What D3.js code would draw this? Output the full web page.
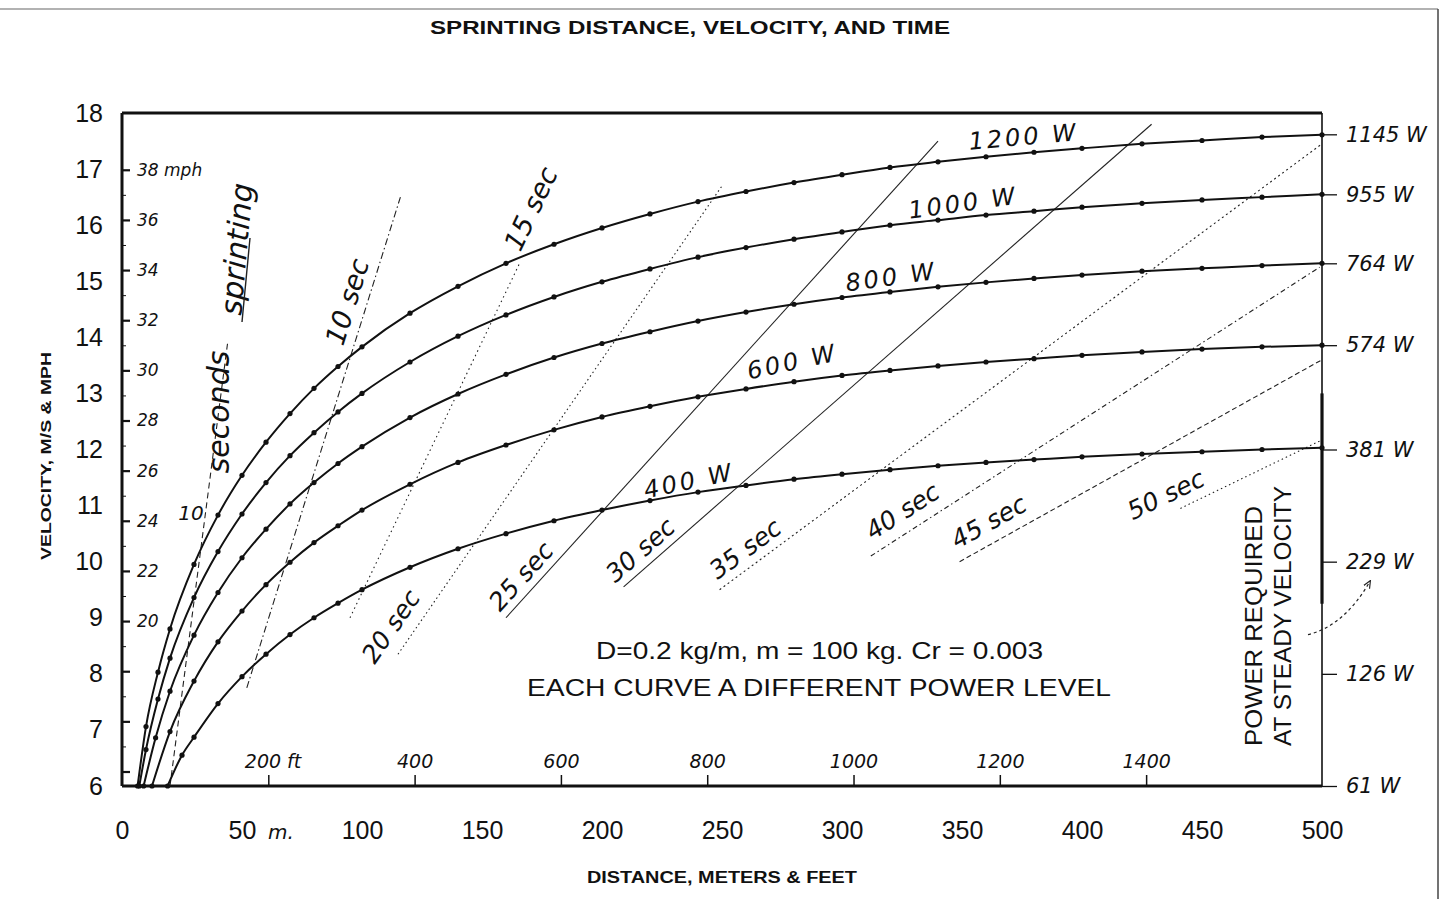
<!DOCTYPE html>
<html>
<head>
<meta charset="utf-8">
<script src="https://cdn.jsdelivr.net/npm/d3@7"></script>
<style>
  body { margin: 0; background: #fff; }
  svg text { fill: #111; }
  .print { font-family: "Liberation Sans", Arial, sans-serif; }
  .hand { font-family: "DejaVu Sans", sans-serif; font-style: italic; font-weight: 200; }
</style>
</head>
<body>
<svg id="chart" width="1449" height="899"></svg>
<script>
// ---- data ----
var powerLabels = ["400 W", "600 W", "800 W", "1000 W", "1200 W"];

var dist400 = [19, 25, 30, 40, 50, 60, 70, 80, 90, 100, 120, 140, 160, 180, 200, 220, 240, 260, 280, 300, 320, 340, 360, 380, 400, 425, 450, 475, 500];
var vel400  = [6.0, 6.55, 6.87, 7.47, 7.95, 8.35, 8.70, 9.00, 9.26, 9.50, 9.90, 10.23, 10.50, 10.73, 10.92, 11.09, 11.24, 11.36, 11.47, 11.56, 11.64, 11.71, 11.77, 11.82, 11.87, 11.92, 11.96, 12.00, 12.03];

var dist600 = [12.5, 20, 30, 40, 50, 60, 70, 80, 90, 100, 120, 140, 160, 180, 200, 220, 240, 260, 280, 300, 320, 340, 360, 380, 400, 425, 450, 475, 500];
var vel600  = [6.0, 6.97, 7.87, 8.57, 9.12, 9.59, 9.99, 10.34, 10.64, 10.92, 11.38, 11.77, 12.08, 12.35, 12.58, 12.77, 12.94, 13.08, 13.21, 13.32, 13.41, 13.49, 13.56, 13.62, 13.68, 13.74, 13.79, 13.83, 13.86];

var dist800 = [9, 14, 20, 30, 40, 50, 60, 70, 80, 90, 100, 120, 140, 160, 180, 200, 220, 240, 260, 280, 300, 320, 340, 360, 380, 400, 425, 450, 475, 500];
var vel800  = [6.0, 6.86, 7.69, 8.69, 9.45, 10.07, 10.58, 11.03, 11.41, 11.75, 12.05, 12.57, 12.99, 13.34, 13.64, 13.89, 14.10, 14.29, 14.45, 14.59, 14.71, 14.81, 14.90, 14.98, 15.05, 15.11, 15.18, 15.23, 15.28, 15.32];

var dist1000 = [7.2, 10, 15, 20, 30, 40, 50, 60, 70, 80, 90, 100, 120, 140, 160, 180, 200, 220, 240, 260, 280, 300, 320, 340, 360, 380, 400, 425, 450, 475, 500];
var vel1000  = [6.0, 6.65, 7.55, 8.28, 9.36, 10.18, 10.85, 11.41, 11.89, 12.30, 12.67, 13.00, 13.56, 14.02, 14.40, 14.72, 14.99, 15.22, 15.43, 15.60, 15.75, 15.88, 16.00, 16.09, 16.18, 16.25, 16.32, 16.39, 16.45, 16.50, 16.55];

var dist1200 = [6.5, 10, 15, 20, 30, 40, 50, 60, 70, 80, 90, 100, 120, 140, 160, 180, 200, 220, 240, 260, 280, 300, 320, 340, 360, 380, 400, 425, 450, 475, 500];
var vel1200  = [6.0, 7.06, 8.03, 8.80, 9.95, 10.83, 11.54, 12.13, 12.64, 13.09, 13.48, 13.83, 14.43, 14.91, 15.32, 15.66, 15.95, 16.20, 16.42, 16.60, 16.76, 16.90, 17.03, 17.13, 17.22, 17.30, 17.37, 17.45, 17.51, 17.57, 17.61];

// lines of equal elapsed time (start and end, distance m / velocity m/s)
var timeLabels = ["10 sec", "15 sec", "20 sec", "25 sec", "30 sec", "35 sec", "40 sec", "45 sec", "50 sec"];
var timeStartD = [52, 95, 115, 160, 209, 249, 312, 349, 441];
var timeStartV = [7.75, 9.0, 8.35, 9.0, 9.55, 9.5, 10.1, 10.0, 10.95];
var timeEndD   = [116, 166, 250, 340, 429, 500, 499, 500, 499];
var timeEndV   = [16.5, 15.35, 16.7, 17.5, 17.8, 17.45, 15.25, 13.6, 12.15];

// short dashed line near the start of the curves
var earlyLineD = [20, 44];
var earlyLineV = [6.0, 13.9];

// power needed to hold the final velocity, right-hand scale
var steadyVel    = [17.62, 16.55, 15.32, 13.86, 12, 10, 8, 6];
var steadyLabels = ["1145 W", "955 W", "764 W", "574 W", "381 W", "229 W", "126 W", "61 W"];

var xTicks   = [0, 50, 100, 150, 200, 250, 300, 350, 400, 450, 500];
var yTicks   = [6, 7, 8, 9, 10, 11, 12, 13, 14, 15, 16, 17, 18];
var mphTicks = d3.range(14, 39);
var feetTicks = [200, 400, 600, 800, 1000, 1200, 1400];

// ---- scales ----
var svg = d3.select('#chart');
var x = d3.scaleLinear().domain([0, 500]).range([122, 1322]);
var y = d3.scaleLinear().domain([6, 18]).range([786, 113]);
var xFeet = d3.scaleLinear().domain([0, 500 / 0.3048]).range(x.range());
var yMph = d3.scaleLinear().domain([6 / 0.44704, 18 / 0.44704]).range(y.range());

// outer border
svg.append('line').attr('x1', 0).attr('x2', 1438).attr('y1', 9).attr('y2', 9)
    .attr('stroke', '#666').attr('stroke-width', 1.2);
svg.append('line').attr('x1', 1438).attr('x2', 1438).attr('y1', 9).attr('y2', 899)
    .attr('stroke', '#444').attr('stroke-width', 1.5);

// title and axis titles
svg.append('text').attr('class', 'print')
    .attr('x', 430).attr('y', 34)
    .attr('font-size', 19).attr('font-weight', 'bold')
    .attr('textLength', 520).attr('lengthAdjust', 'spacingAndGlyphs')
    .text('SPRINTING DISTANCE, VELOCITY, AND TIME');

svg.append('text').attr('class', 'print')
    .attr('x', 587).attr('y', 883)
    .attr('font-size', 16).attr('font-weight', 'bold')
    .attr('textLength', 270).attr('lengthAdjust', 'spacingAndGlyphs')
    .text('DISTANCE, METERS & FEET');

svg.append('text').attr('class', 'print')
    .attr('transform', 'translate(51,560) rotate(-90)')
    .attr('font-size', 14).attr('font-weight', 'bold')
    .attr('textLength', 208).attr('lengthAdjust', 'spacingAndGlyphs')
    .text('VELOCITY, M/S & MPH');

// ---- axes ----
var gx = svg.append('g')
    .attr('transform', 'translate(0,' + y(6) + ')')
    .call(d3.axisBottom(x).tickValues(xTicks).tickSize(0).tickPadding(35));
gx.select('.domain').remove();
gx.selectAll('text').attr('font-size', 25).attr('font-family', '"Liberation Sans", Arial, sans-serif').attr('fill', '#111');
svg.append('text').attr('class', 'hand')
    .attr('x', x(50) + 26).attr('y', y(6) + 53).attr('font-size', 20).text('m.');

var gy = svg.append('g')
    .attr('transform', 'translate(' + x(0) + ',0)')
    .call(d3.axisLeft(y).tickValues(yTicks).tickSize(0).tickPadding(19));
gy.select('.domain').remove();
gy.selectAll('text').attr('font-size', 25).attr('font-family', '"Liberation Sans", Arial, sans-serif').attr('fill', '#111');

// mph scale inside left edge
var gm = svg.append('g')
    .attr('transform', 'translate(' + x(0) + ',0)')
    .call(d3.axisRight(yMph).tickValues(mphTicks).tickSize(8).tickPadding(7)
        .tickFormat(function (d) {
            if (d < 20 || d % 2) return '';
            return d === 38 ? '38 mph' : d;
        }));
gm.select('.domain').remove();
gm.selectAll('.tick line')
    .attr('x2', function (d) { return d % 2 ? 4 : 8; })
    .attr('stroke', '#111').attr('stroke-width', function (d) { return d % 2 ? 1 : 2.2; });
gm.selectAll('text').attr('class', 'hand').attr('font-size', 17).attr('fill', '#222');

// feet scale inside bottom edge
var gf = svg.append('g')
    .attr('transform', 'translate(0,' + y(6) + ')')
    .call(d3.axisTop(xFeet).tickValues(feetTicks).tickSize(11).tickPadding(7)
        .tickFormat(function (d) { return d === 200 ? '200 ft' : d; }));
gf.select('.domain').remove();
gf.selectAll('.tick line').attr('stroke', '#111').attr('stroke-width', 1.5);
gf.selectAll('text').attr('class', 'hand').attr('font-size', 19).attr('fill', '#222');
gf.selectAll('text').filter(function (d) { return d === 200; })
    .attr('text-anchor', 'start').attr('dx', -24);

// steady power scale on the right
var gp = svg.append('g')
    .attr('transform', 'translate(' + x(500) + ',0)')
    .call(d3.axisRight(y).tickValues(steadyVel).tickSize(15).tickPadding(9)
        .tickFormat(function (d, i) { return steadyLabels[i]; }));
gp.select('.domain').remove();
gp.selectAll('.tick line').attr('stroke', '#111').attr('stroke-width', 1.3);
gp.selectAll('text').attr('class', 'hand').attr('font-size', 21).attr('fill', '#222');

// frame
var frame = svg.append('g').attr('stroke', '#111').attr('fill', 'none');
frame.append('line').attr('x1', x(0)).attr('x2', x(500)).attr('y1', y(18)).attr('y2', y(18)).attr('stroke-width', 3);
frame.append('line').attr('x1', x(0)).attr('x2', x(500)).attr('y1', y(6)).attr('y2', y(6)).attr('stroke-width', 3.2);
frame.append('line').attr('x1', x(0)).attr('x2', x(0)).attr('y1', y(18)).attr('y2', y(6)).attr('stroke-width', 3);
frame.append('line').attr('x1', x(500)).attr('x2', x(500)).attr('y1', y(18)).attr('y2', y(6)).attr('stroke-width', 1.6);
frame.append('line').attr('x1', x(500)).attr('x2', x(500)).attr('y1', y(13)).attr('y2', y(9.25)).attr('stroke-width', 3.2);

// ---- lines of equal time ----
var dashes = ['7,3,1.5,3', '1.5,3.5', '1.5,3', null, null, '2,3', '5,3,1.5,3', '5,3', '1.5,3'];
// where each label sits: distance along the line from its start (px) and lift off it (px)
var labelAlong = [null, null, -22, 0, -4, 4, 10, 4, -48];
var labelLiftPx = [10, 4, 13, 8, 8, 9, 12, 12, 10];
var tg = svg.append('g');
timeLabels.forEach(function (lab, i) {
    var x1 = x(timeStartD[i]), y1 = y(timeStartV[i]);
    var x2 = x(timeEndD[i]), y2 = y(timeEndV[i]);
    tg.append('line')
        .attr('x1', x1).attr('y1', y1).attr('x2', x2).attr('y2', y2)
        .attr('stroke', '#222').attr('stroke-width', 1.1)
        .attr('stroke-dasharray', dashes[i]);

    var ang = Math.atan2(y2 - y1, x2 - x1);
    var deg = ang * 180 / Math.PI;
    var ux = Math.cos(ang), uy = Math.sin(ang);
    var px = uy, py = -ux;                       // normal pointing up-left
    var len = Math.hypot(x2 - x1, y2 - y1);
    var along;
    if (i === 0) along = len - 160;              // beside the top part
    else if (i === 1) along = len + 8;           // beyond the top end
    else along = labelAlong[i];                  // on the lower start
    var tx = x1 + ux * along + px * labelLiftPx[i];
    var ty = y1 + uy * along + py * labelLiftPx[i];
    tg.append('text').attr('class', 'hand')
        .attr('transform', 'translate(' + tx + ',' + ty + ') rotate(' + deg + ')')
        .attr('font-size', i < 2 ? 27 : 25)
        .text(lab);
});

tg.append('line')
    .attr('x1', x(earlyLineD[0])).attr('y1', y(earlyLineV[0]))
    .attr('x2', x(earlyLineD[1])).attr('y2', y(earlyLineV[1]))
    .attr('stroke', '#222').attr('stroke-width', 1.1).attr('stroke-dasharray', '6,4');

// ---- power curves ----
var curves = [
    {label: powerLabels[0], d: dist400, v: vel400},
    {label: powerLabels[1], d: dist600, v: vel600},
    {label: powerLabels[2], d: dist800, v: vel800},
    {label: powerLabels[3], d: dist1000, v: vel1000},
    {label: powerLabels[4], d: dist1200, v: vel1200}
];
curves.forEach(function (c) {
    c.points = c.d.map(function (d, i) { return [d, c.v[i]]; });
});

var line = d3.line()
    .x(function (p) { return x(p[0]); })
    .y(function (p) { return y(p[1]); })
    .curve(d3.curveMonotoneX);

var cg = svg.append('g');
cg.selectAll('path.curve').data(curves).enter().append('path')
    .attr('class', 'curve')
    .attr('d', function (c) { return line(c.points); })
    .attr('fill', 'none').attr('stroke', '#111').attr('stroke-width', 2);

curves.forEach(function (c) {
    cg.selectAll(null).data(c.points).enter().append('circle')
        .attr('cx', function (p) { return x(p[0]); })
        .attr('cy', function (p) { return y(p[1]); })
        .attr('r', 2.6).attr('fill', '#111');
});

// curve labels, written just above each curve
var labelAt = [237, 280, 321, 351, 376];
var labelLift = [0.055, 0.21, 0.03, 0.07, 0.13];
var labelTilt = [-12, -12, -8, -8, -5];
curves.forEach(function (c, i) {
    var k = d3.bisectLeft(c.d, labelAt[i]);
    var v = c.v[Math.min(k, c.v.length - 1)];
    cg.append('text').attr('class', 'hand')
        .attr('transform', 'translate(' + x(labelAt[i]) + ',' + y(v + labelLift[i]) + ') rotate(' + labelTilt[i] + ')')
        .attr('text-anchor', 'middle').attr('font-size', 24).attr('letter-spacing', 3)
        .text(c.label);
});

// handwritten note on the left
svg.append('text').attr('class', 'hand')
    .attr('x', 191).attr('y', 520).attr('text-anchor', 'middle').attr('font-size', 20).text('10');
svg.append('text').attr('class', 'hand')
    .attr('transform', 'translate(229,412) rotate(-90)').attr('text-anchor', 'middle')
    .attr('font-size', 30).text('seconds');
svg.append('text').attr('class', 'hand')
    .attr('transform', 'translate(247,250) rotate(-85)').attr('text-anchor', 'middle')
    .attr('font-size', 30).text('sprinting');
svg.append('line').attr('x1', 242).attr('y1', 322).attr('x2', 250).attr('y2', 238)
    .attr('stroke', '#222').attr('stroke-width', 1.4);

// physical constants
svg.append('text').attr('class', 'print')
    .attr('x', 596).attr('y', 659).attr('font-size', 24)
    .attr('textLength', 447).attr('lengthAdjust', 'spacingAndGlyphs')
    .text('D=0.2 kg/m, m = 100 kg. Cr = 0.003');
svg.append('text').attr('class', 'print')
    .attr('x', 527).attr('y', 696).attr('font-size', 24)
    .attr('textLength', 584).attr('lengthAdjust', 'spacingAndGlyphs')
    .text('EACH CURVE A DIFFERENT POWER LEVEL');

// note for the right-hand scale
svg.append('text').attr('class', 'print')
    .attr('transform', 'translate(1262,746) rotate(-90)').attr('font-size', 24)
    .attr('textLength', 240).attr('lengthAdjust', 'spacingAndGlyphs')
    .text('POWER REQUIRED');
svg.append('text').attr('class', 'print')
    .attr('transform', 'translate(1291,746) rotate(-90)').attr('font-size', 24)
    .attr('textLength', 260).attr('lengthAdjust', 'spacingAndGlyphs')
    .text('AT STEADY VELOCITY');

var defs = svg.append('defs');
defs.append('marker').attr('id', 'arrow').attr('viewBox', '0 0 10 10')
    .attr('refX', 8).attr('refY', 5).attr('markerWidth', 7).attr('markerHeight', 7)
    .attr('orient', 'auto')
    .append('path').attr('d', 'M0,1 L9,5 L0,9').attr('fill', 'none').attr('stroke', '#222').attr('stroke-width', 1.4);
svg.append('path')
    .attr('d', 'M' + (x(500) - 14) + ',' + y(8.7) + ' Q' + (x(500) + 22) + ',' + y(8.85) + ' ' + (x(500) + 48) + ',' + y(9.65))
    .attr('fill', 'none').attr('stroke', '#222').attr('stroke-width', 1.2)
    .attr('stroke-dasharray', '3,3').attr('marker-end', 'url(#arrow)');
</script>
</body>
</html>
